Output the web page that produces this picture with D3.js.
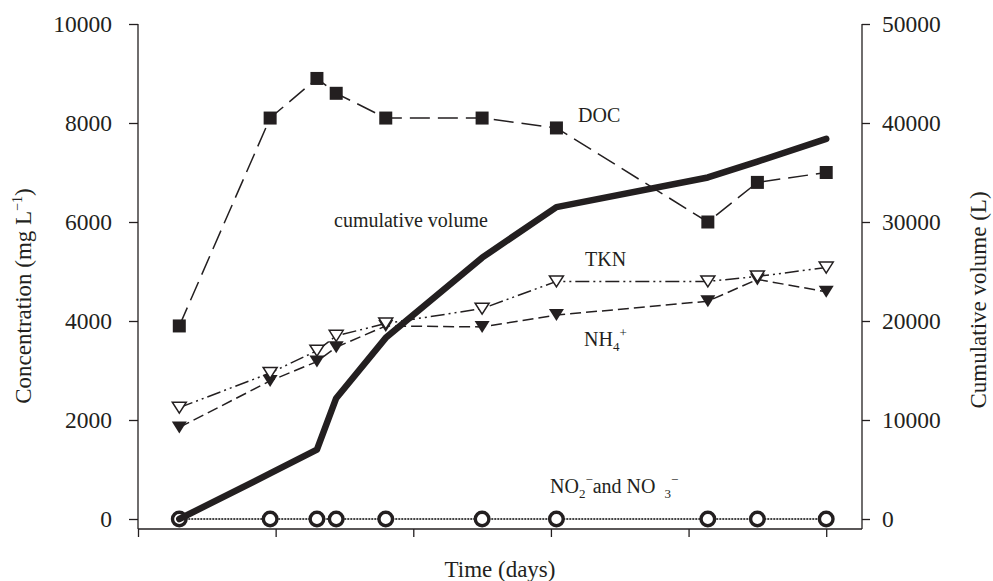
<!DOCTYPE html>
<html>
<head>
<meta charset="utf-8">
<script src="https://cdn.jsdelivr.net/npm/d3@7/dist/d3.min.js"></script>
<style>
  html, body { margin: 0; padding: 0; background: #fff; }
  svg { display: block; }
  text { font-family: "Liberation Serif", "Times New Roman", serif; fill: #231f20; }
</style>
</head>
<body>
<svg id="chart" width="993" height="581"></svg>
<script>
// ---- data ----
const days   = [15, 48, 65, 72, 90, 125, 152, 207, 225, 250];
const doc    = [3900, 8100, 8900, 8600, 8100, 8100, 7900, 6000, 6800, 7000];
const tkn    = [2250, 2950, 3400, 3700, 3950, 4250, 4800, 4800, 4900, 5080];
const nh4    = [1850, 2790, 3180, 3470, 3900, 3880, 4120, 4400, 4840, 4590];
const nox    = [0, 0, 0, 0, 0, 0, 0, 0, 0, 0];
const cumVol = [0, 4600, 7000, 12200, 18300, 26400, 31500, 34500, 36100, 38400];
const leftTicks  = [0, 2000, 4000, 6000, 8000, 10000];
const rightTicks = [0, 10000, 20000, 30000, 40000, 50000];
const xTicks     = [0, 50, 100, 150, 200, 250];

const ink = "#231f20";
const svg = d3.select("#chart");

const x  = d3.scaleLinear().domain([0, 263]).range([138, 862]);
const yL = d3.scaleLinear().domain([0, 10000]).range([519, 24]);
const yR = d3.scaleLinear().domain([0, 50000]).range([519, 24]);
const xAxisY = 529;

// ---- axes ----
const gL = svg.append("g").attr("transform", "translate(138,0)")
  .call(d3.axisLeft(yL).tickValues(leftTicks).tickSize(9).tickPadding(17).tickFormat(d3.format("d")));
const gR = svg.append("g").attr("transform", "translate(862,0)")
  .call(d3.axisRight(yR).tickValues(rightTicks).tickSize(8).tickPadding(12).tickFormat(d3.format("d")));
const gX = svg.append("g").attr("transform", `translate(0,${xAxisY})`)
  .call(d3.axisBottom(x).tickValues(xTicks).tickSize(8).tickFormat(""));
[gL, gR, gX].forEach(g => {
  g.select(".domain").remove();
  g.selectAll(".tick line").attr("stroke", ink).attr("stroke-width", 1.3);
  g.selectAll(".tick text").attr("font-size", 23.5).attr("font-family", "Liberation Serif").attr("fill", ink);
});
// axis frame lines
svg.append("line").attr("x1", 138).attr("x2", 138).attr("y1", yL(10000)).attr("y2", xAxisY)
  .attr("stroke", ink).attr("stroke-width", 1.3);
svg.append("line").attr("x1", 862).attr("x2", 862).attr("y1", yR(50000)).attr("y2", xAxisY)
  .attr("stroke", ink).attr("stroke-width", 1.3);
svg.append("line").attr("x1", 138).attr("x2", 862).attr("y1", xAxisY).attr("y2", xAxisY)
  .attr("stroke", ink).attr("stroke-width", 1.3);

// axis titles
svg.append("text").attr("x", 500).attr("y", 577).attr("text-anchor", "middle")
  .attr("font-size", 23).text("Time (days)");
const lt = svg.append("text").attr("transform", "translate(31,296) rotate(-90)")
  .attr("text-anchor", "middle").attr("font-size", 23);
lt.append("tspan").text("Concentration (mg L");
lt.append("tspan").attr("font-size", 14).attr("dy", -9).text("−1");
lt.append("tspan").attr("dy", 9).text(")");
svg.append("text").attr("transform", "translate(986,300) rotate(-90)")
  .attr("text-anchor", "middle").attr("font-size", 23).text("Cumulative volume (L)");

// ---- series ----
const pts = vals => days.map((d, i) => [d, vals[i]]);
const lineL = d3.line().x(d => x(d[0])).y(d => yL(d[1]));
const lineR = d3.line().x(d => x(d[0])).y(d => yR(d[1]));

// NO2/NO3 baseline
svg.append("path").attr("d", lineL(pts(nox))).attr("fill", "none")
  .attr("stroke", "#444").attr("stroke-width", 2).attr("stroke-dasharray", "2,1");
// DOC
svg.append("path").attr("d", lineL(pts(doc))).attr("fill", "none")
  .attr("stroke", ink).attr("stroke-width", 1.5).attr("stroke-dasharray", "20,8");
// NH4
svg.append("path").attr("d", lineL(pts(nh4))).attr("fill", "none")
  .attr("stroke", ink).attr("stroke-width", 1.5).attr("stroke-dasharray", "11,5");
// TKN
svg.append("path").attr("d", lineL(pts(tkn))).attr("fill", "none")
  .attr("stroke", ink).attr("stroke-width", 1.5).attr("stroke-dasharray", "14,4,2,4,2,4");

// markers
const tri = (cx, cy, w, h) => `M${cx - w / 2},${cy - h / 2}L${cx + w / 2},${cy - h / 2}L${cx},${cy + h / 2}Z`;
svg.append("g").selectAll("rect").data(pts(doc)).join("rect")
  .attr("x", d => x(d[0]) - 6.5).attr("y", d => yL(d[1]) - 6.5)
  .attr("width", 13).attr("height", 13).attr("fill", ink);
svg.append("g").selectAll("path").data(pts(nh4)).join("path")
  .attr("d", d => tri(x(d[0]), yL(d[1]), 15, 12)).attr("fill", ink);
svg.append("g").selectAll("path").data(pts(tkn)).join("path")
  .attr("d", d => tri(x(d[0]), yL(d[1]), 14, 11)).attr("fill", "#fff")
  .attr("stroke", ink).attr("stroke-width", 1.5);
svg.append("g").selectAll("circle").data(pts(nox)).join("circle")
  .attr("cx", d => x(d[0])).attr("cy", d => yL(d[1])).attr("r", 6.8)
  .attr("fill", "#fff").attr("stroke", ink).attr("stroke-width", 3.4);

// cumulative volume
svg.append("path").attr("d", lineR(pts(cumVol))).attr("fill", "none")
  .attr("stroke", ink).attr("stroke-width", 6.5).attr("stroke-linecap", "round").attr("stroke-linejoin", "round");

// ---- in-plot labels ----
svg.append("text").attr("x", 578).attr("y", 122).attr("font-size", 20).text("DOC");
svg.append("text").attr("x", 334).attr("y", 227).attr("font-size", 20).text("cumulative volume");
svg.append("text").attr("x", 585).attr("y", 266).attr("font-size", 20).text("TKN");
const nh = svg.append("text").attr("x", 584).attr("y", 346).attr("font-size", 20);
nh.append("tspan").text("NH");
nh.append("tspan").attr("font-size", 13).attr("dy", 5).text("4");
nh.append("tspan").attr("font-size", 13).attr("dy", -14).text("+");
const no = svg.append("text").attr("x", 550).attr("y", 493).attr("font-size", 20);
no.append("tspan").text("NO");
no.append("tspan").attr("font-size", 13).attr("dy", 5).text("2");
no.append("tspan").attr("font-size", 13).attr("dy", -14).text("−");
no.append("tspan").attr("dy", 9).text("and NO ");
no.append("tspan").attr("font-size", 13).attr("dy", 5).attr("dx", 4).text("3");
no.append("tspan").attr("font-size", 13).attr("dy", -14).text("−");
</script>
</body>
</html>
